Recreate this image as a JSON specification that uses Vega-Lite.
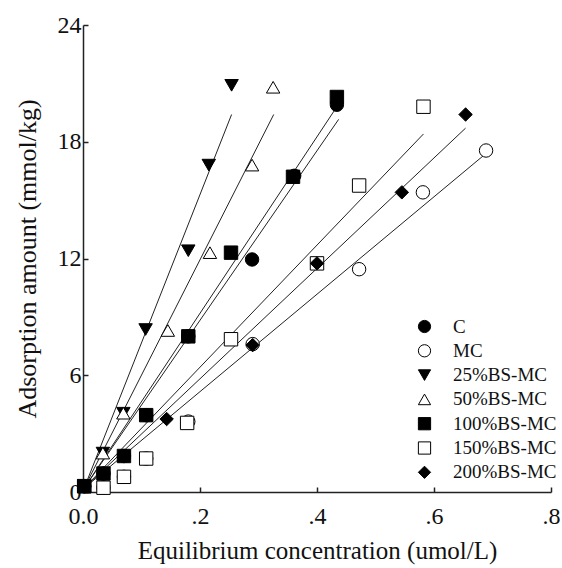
{
  "$schema": "https://vega.github.io/schema/vega-lite/v6.json",
  "width": 468,
  "height": 467,
  "autosize": {"type": "none"},
  "padding": {"left": 83, "top": 25, "right": 11, "bottom": 76},
  "background": "white",
  "config": {
    "view": {"stroke": null},
    "font": "Liberation Serif",
    "axis": {
      "grid": false,
      "domainColor": "#222",
      "tickColor": "#222",
      "labelColor": "#111",
      "titleColor": "#111",
      "labelFontSize": 24,
      "titleFontSize": 25,
      "labelFont": "Liberation Serif",
      "titleFont": "Liberation Serif",
      "titleFontWeight": "normal",
      "domainWidth": 1.5,
      "tickWidth": 1.5,
      "tickSize": -5,
      "labelFlush": false,
      "labelOverlap": false
    }
  },
  "datasets": {
    "pts": [
      {"series": "MC", "x": 0.002, "y": 0.3},
      {"series": "MC", "x": 0.035, "y": 0.22},
      {"series": "MC", "x": 0.07, "y": 0.78},
      {"series": "MC", "x": 0.108, "y": 1.72},
      {"series": "MC", "x": 0.18, "y": 3.62},
      {"series": "MC", "x": 0.29, "y": 7.6},
      {"series": "MC", "x": 0.472, "y": 11.45},
      {"series": "MC", "x": 0.581, "y": 15.4},
      {"series": "MC", "x": 0.689, "y": 17.55},
      {"series": "150%BS-MC", "x": 0.002, "y": 0.3},
      {"series": "150%BS-MC", "x": 0.035, "y": 0.22},
      {"series": "150%BS-MC", "x": 0.07, "y": 0.78},
      {"series": "150%BS-MC", "x": 0.108, "y": 1.72},
      {"series": "150%BS-MC", "x": 0.178, "y": 3.55},
      {"series": "150%BS-MC", "x": 0.253, "y": 7.85},
      {"series": "150%BS-MC", "x": 0.4, "y": 11.75},
      {"series": "150%BS-MC", "x": 0.472, "y": 15.75},
      {"series": "150%BS-MC", "x": 0.582, "y": 19.8},
      {"series": "25%BS-MC", "x": 0.002, "y": 0.3},
      {"series": "25%BS-MC", "x": 0.034, "y": 2.0},
      {"series": "25%BS-MC", "x": 0.069, "y": 4.05},
      {"series": "25%BS-MC", "x": 0.107, "y": 8.35},
      {"series": "25%BS-MC", "x": 0.18, "y": 12.4},
      {"series": "25%BS-MC", "x": 0.215, "y": 16.8},
      {"series": "25%BS-MC", "x": 0.254, "y": 20.9},
      {"series": "50%BS-MC", "x": 0.002, "y": 0.3},
      {"series": "50%BS-MC", "x": 0.034, "y": 2.0},
      {"series": "50%BS-MC", "x": 0.069, "y": 4.05},
      {"series": "50%BS-MC", "x": 0.145, "y": 8.3},
      {"series": "50%BS-MC", "x": 0.217, "y": 12.3},
      {"series": "50%BS-MC", "x": 0.289, "y": 16.8},
      {"series": "50%BS-MC", "x": 0.325, "y": 20.8},
      {"series": "100%BS-MC", "x": 0.002, "y": 0.3},
      {"series": "100%BS-MC", "x": 0.035, "y": 0.95},
      {"series": "100%BS-MC", "x": 0.07, "y": 1.85},
      {"series": "100%BS-MC", "x": 0.108, "y": 3.95},
      {"series": "100%BS-MC", "x": 0.18, "y": 8.0},
      {"series": "100%BS-MC", "x": 0.253, "y": 12.3},
      {"series": "100%BS-MC", "x": 0.359, "y": 16.2},
      {"series": "100%BS-MC", "x": 0.434, "y": 20.3},
      {"series": "200%BS-MC", "x": 0.002, "y": 0.3},
      {"series": "200%BS-MC", "x": 0.035, "y": 0.95},
      {"series": "200%BS-MC", "x": 0.07, "y": 1.85},
      {"series": "200%BS-MC", "x": 0.143, "y": 3.75},
      {"series": "200%BS-MC", "x": 0.29, "y": 7.55},
      {"series": "200%BS-MC", "x": 0.4, "y": 11.75},
      {"series": "200%BS-MC", "x": 0.545, "y": 15.4},
      {"series": "200%BS-MC", "x": 0.654, "y": 19.4},
      {"series": "C", "x": 0.002, "y": 0.3},
      {"series": "C", "x": 0.035, "y": 0.95},
      {"series": "C", "x": 0.07, "y": 1.85},
      {"series": "C", "x": 0.108, "y": 3.95},
      {"series": "C", "x": 0.18, "y": 8.0},
      {"series": "C", "x": 0.289, "y": 11.95},
      {"series": "C", "x": 0.361, "y": 16.25},
      {"series": "C", "x": 0.434, "y": 19.9}
    ],
    "fits": [
      {"series": "25%BS-MC", "x": 0.002, "y": 0.2},
      {"series": "25%BS-MC", "x": 0.254, "y": 19.4},
      {"series": "50%BS-MC", "x": 0.002, "y": 0.2},
      {"series": "50%BS-MC", "x": 0.326, "y": 19.4},
      {"series": "C", "x": 0.002, "y": 0.2},
      {"series": "C", "x": 0.437, "y": 19.15},
      {"series": "100%BS-MC", "x": 0.002, "y": 0.2},
      {"series": "100%BS-MC", "x": 0.434, "y": 19.8},
      {"series": "150%BS-MC", "x": 0.002, "y": 0.2},
      {"series": "150%BS-MC", "x": 0.582, "y": 18.4},
      {"series": "200%BS-MC", "x": 0.002, "y": 0.2},
      {"series": "200%BS-MC", "x": 0.654, "y": 18.7},
      {"series": "MC", "x": 0.002, "y": 0.2},
      {"series": "MC", "x": 0.689, "y": 17.4}
    ]
  },
  "layer": [
    {
      "data": {"name": "fits"},
      "mark": {"type": "line", "color": "#222", "strokeWidth": 1},
      "encoding": {
        "x": {
          "field": "x", "type": "quantitative",
          "scale": {"domain": [0, 0.8], "nice": false},
          "axis": {
            "values": [0, 0.2, 0.4, 0.6, 0.8],
            "labelExpr": "datum.value == 0 ? '0.0' : replace(format(datum.value, '.1f'), '0.', '.')",
            "title": "Equilibrium concentration (umol/L)",
            "labelPadding": 17,
            "titlePadding": 10
          }
        },
        "y": {
          "field": "y", "type": "quantitative",
          "scale": {"domain": [0, 24], "nice": false},
          "axis": {
            "values": [0, 6, 12, 18, 24],
            "title": "Adsorption amount (mmol/kg)",
            "titleFontSize": 26,
            "labelPadding": 7,
            "titlePadding": 17
          }
        },
        "detail": {"field": "series"}
      }
    },
    {
      "data": {"name": "pts"},
      "mark": {"type": "point", "filled": true, "strokeWidth": 1, "opacity": 1, "size": 180},
      "encoding": {
        "x": {"field": "x", "type": "quantitative"},
        "y": {"field": "y", "type": "quantitative"},
        "shape": {
          "field": "series", "type": "nominal",
          "scale": {
            "domain": ["C", "MC", "25%BS-MC", "50%BS-MC", "100%BS-MC", "150%BS-MC", "200%BS-MC"],
            "range": ["circle", "circle", "triangle-down", "triangle-up", "square", "square", "diamond"]
          },
          "legend": {
            "orient": "none", "legendX": 332, "legendY": 292, "title": null,
            "labelFontSize": 19, "labelFont": "Liberation Serif", "labelColor": "#111",
            "symbolSize": 150, "symbolStrokeWidth": 1,
            "rowPadding": 4.3, "labelOffset": 19
          }
        },
        "fill": {
          "field": "series", "type": "nominal",
          "scale": {
            "domain": ["C", "MC", "25%BS-MC", "50%BS-MC", "100%BS-MC", "150%BS-MC", "200%BS-MC"],
            "range": ["black", "white", "black", "white", "black", "white", "black"]
          },
          "legend": {
            "orient": "none", "legendX": 332, "legendY": 292, "title": null,
            "labelFontSize": 19, "labelFont": "Liberation Serif", "labelColor": "#111",
            "symbolSize": 150, "symbolStrokeWidth": 1,
            "rowPadding": 4.3, "labelOffset": 19
          }
        },
        "stroke": {
          "field": "series", "type": "nominal",
          "scale": {
            "domain": ["C", "MC", "25%BS-MC", "50%BS-MC", "100%BS-MC", "150%BS-MC", "200%BS-MC"],
            "range": ["black", "black", "black", "black", "black", "black", "black"]
          },
          "legend": {
            "orient": "none", "legendX": 332, "legendY": 292, "title": null,
            "labelFontSize": 19, "labelFont": "Liberation Serif", "labelColor": "#111",
            "symbolSize": 150, "symbolStrokeWidth": 1,
            "rowPadding": 4.3, "labelOffset": 19
          }
        }
      }
    }
  ]
}
